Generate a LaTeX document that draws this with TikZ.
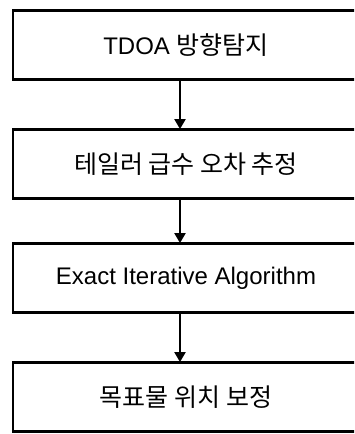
\documentclass[tikz,border=0pt]{standalone}
\usepackage{fontspec}
\setmainfont{Liberation Sans}
\newfontfamily\kr{Noto Sans CJK KR}
\usetikzlibrary{arrows.meta}
\begin{document}
\begin{tikzpicture}[x=1pt,y=1pt,
  flowbox/.style={draw=black, line width=2.8pt, minimum width=346pt, minimum height=69pt, inner sep=0pt, font=\fontsize{24}{28}\selectfont},
  krtext/.style={font=\fontsize{25}{29}\kr},
  flowarrow/.style={draw=black, line width=2.2pt, -{Triangle[length=10pt,width=11pt]}, shorten >=-1pt}]
\useasboundingbox (0,0) rectangle (354,434);
\clip (0,0) rectangle (354,434);
\node[flowbox] (b1) at (186,389) {TDOA {\fontsize{25}{29}\kr 방향탐지}};
\node[flowbox, krtext] (b2) at (186,270) {테일러 급수 오차 추정};
\node[flowbox] (b3) at (186,156) {Exact Iterative Algorithm};
\node[flowbox, krtext] (b4) at (186,37) {목표물 위치 보정};
\draw[flowarrow] ([xshift=-6pt]b1.south) -- ([xshift=-6pt]b2.north);
\draw[flowarrow] ([xshift=-6pt]b2.south) -- ([xshift=-6pt]b3.north);
\draw[flowarrow] ([xshift=-6pt]b3.south) -- ([xshift=-6pt]b4.north);
\end{tikzpicture}
\end{document}
